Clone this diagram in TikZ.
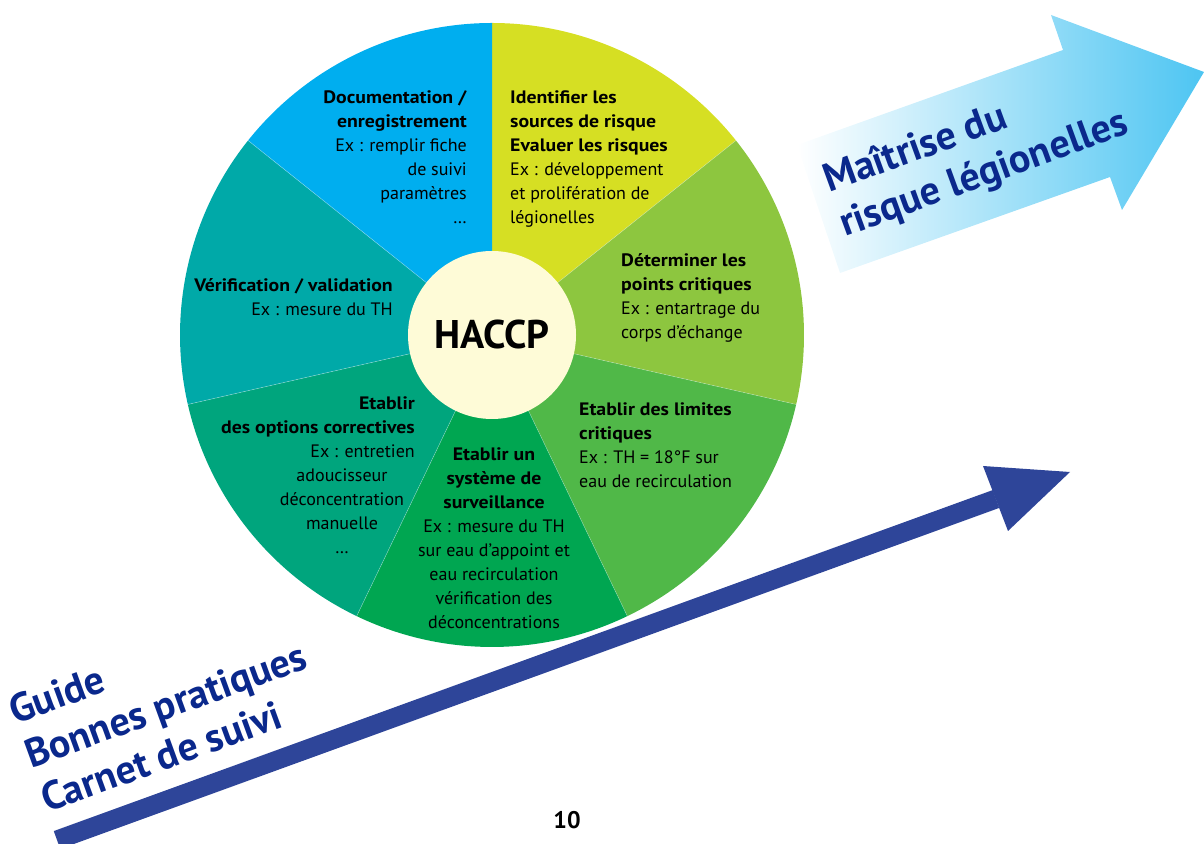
\documentclass[tikz,border=0pt]{standalone}
\usepackage{fontspec}
\setmainfont{PT Sans}[BoldFeatures={FakeStretch=1.1}]
\newfontfamily\titlefont{PT Sans}
\definecolor{identcol}{HTML}{D6DF23}
\definecolor{pointscol}{HTML}{8DC63F}
\definecolor{limitcol}{HTML}{50B848}
\definecolor{survcol}{HTML}{00A651}
\definecolor{optcol}{HTML}{00A57D}
\definecolor{verifcol}{HTML}{00A9A8}
\definecolor{doccol}{HTML}{00AEEF}
\definecolor{haccpfill}{HTML}{FEFBD7}
\definecolor{arrowblue}{HTML}{2E4599}
\definecolor{textblue}{HTML}{0A288C}
\definecolor{skyblue}{HTML}{4DC5F2}
\begin{document}
\begin{tikzpicture}[x=1pt,y=1pt,
    sectortext/.style={inner sep=0pt, text=black, font=\fontsize{18}{24}\selectfont},
    slogan/.style={inner sep=0pt, text=textblue, rotate=20, align=left, anchor=base west,
      font=\titlefont\fontsize{40}{47}\selectfont\bfseries}]
    \useasboundingbox (0,0) rectangle (1204,843);
    \coordinate (c) at (492,508);
    % light arrow
    \shade[left color=white, right color=skyblue]
        (797,698) -- (1063,793) -- (1051,828) -- (1204,771) -- (1122,633) -- (1110,666) -- (840,570) -- cycle;
    % pie
    \foreach \a/\b/\col in {90/38.57/identcol, 38.57/-12.86/pointscol, -12.86/-64.29/limitcol,
        -64.29/-115.71/survcol, -115.71/-167.14/optcol, -167.14/-218.57/verifcol, -218.57/-270/doccol}
        \fill[\col] (c) -- ++(\a:312) arc[start angle=\a, end angle=\b, radius=312] -- cycle;
    \foreach \a in {38.57,-12.86,-64.29,-115.71,-167.14,-218.57}
        \draw[white, opacity=0.4, line width=0.5pt] (c) -- ++(\a:312);
    \fill[haccpfill] (c) circle[radius=84];
    \node[font=\titlefont\fontsize{40}{48}\selectfont\bfseries] (haccp) at (c) {HACCP};
    % texts of the sectors
    \node[sectortext, anchor=north west, align=left] (ident) at (510,752)
        {\textbf{Identifier les}\\ \textbf{sources de risque}\\ \textbf{Evaluer les risques}\\
         Ex : développement\\ et prolifération de\\ légionelles};
    \node[sectortext, anchor=north west, align=left] (points) at (621,590)
        {\textbf{Déterminer les}\\ \textbf{points critiques}\\ Ex : entartrage du\\ corps d’échange};
    \node[sectortext, anchor=north west, align=left] (limits) at (579,440)
        {\textbf{Etablir des limites}\\ \textbf{critiques}\\ Ex : TH = 18°F sur\\ eau de recirculation};
    \node[sectortext, anchor=north, align=center] (surv) at (494,395)
        {\textbf{Etablir un}\\ \textbf{système de}\\ \textbf{surveillance}\\ Ex : mesure du TH\\
         sur eau d’appoint et\\ eau recirculation\\ vérification des\\ déconcentrations};
    \node[sectortext, anchor=north east, align=right] (opt) at (415,446)
        {\textbf{Etablir}\\ \textbf{des options correctives}\\ Ex : entretien};
    \node[sectortext, anchor=north, align=center] (optex) at (342,374)
        {adoucisseur\\ déconcentration\\ manuelle\\ \dots};
    \node[sectortext, anchor=north east, align=right] (verif) at (393,565)
        {\textbf{Vérification / validation}\\ Ex : mesure du TH};
    \node[sectortext, anchor=north east, align=right] (doc) at (467,753)
        {\textbf{Documentation /}\\ \textbf{enregistrement}\\ Ex : remplir fiche\\ de suivi\\ paramètres\\ \dots};
    % dark arrow
    \coordinate (tail) at (57,3);
    \coordinate (headbase) at (996,344);
    \coordinate (tip) at (1070,371);
    \draw[arrowblue, line width=19pt] (tail) -- (headbase);
    \fill[arrowblue] (983,377) -- (tip) -- (1008,312) -- cycle;
    % slogans
    \node[slogan] (mastery) at (845,606) {Maîtrise du\\ risque légionelles};
    \node[slogan] (guide) at (47,30) {Guide\\ Bonnes pratiques\\ Carnet de suivi};
    \node[font=\titlefont\fontsize{24}{28}\selectfont\bfseries] (page) at (567,23) {10};
\end{tikzpicture}
\end{document}
